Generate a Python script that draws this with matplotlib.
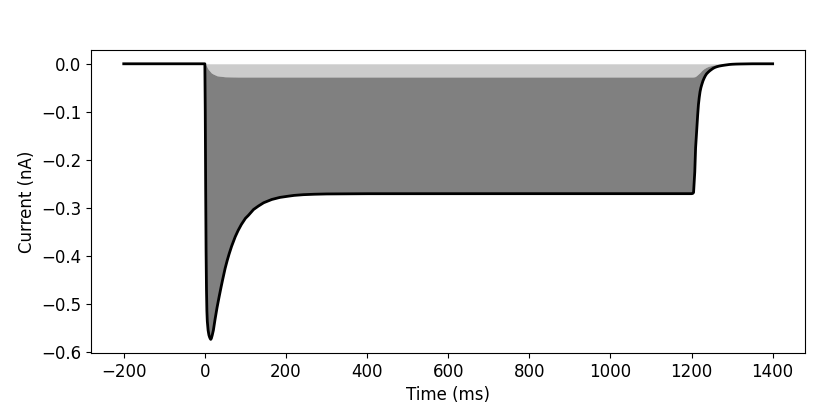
import matplotlib
matplotlib.use("Agg")
import matplotlib.pyplot as plt
import numpy as np

plt.rcParams['font.size'] = 12

# values
time_ms = [-200, 0, 1, 2, 3, 4, 5, 6, 8, 10,
           11.5, 13, 14.5, 16, 18, 21, 25, 27.6, 30, 35,
           40, 44, 50, 55, 60, 66, 75, 82, 90, 100,
           107, 120, 132, 145, 165, 185, 206, 220, 243, 270,
           300, 400, 800, 1200, 1203, 1205, 1208, 1210, 1213, 1215,
           1217, 1219, 1221, 1223, 1225, 1228, 1231, 1234, 1237, 1241,
           1245, 1249, 1253, 1257, 1262, 1268, 1275, 1281, 1287, 1293,
           1300, 1310, 1320, 1350, 1400]

total_nA = [0, 0, -0.10, -0.26, -0.39, -0.47, -0.515, -0.536, -0.555, -0.565,
            -0.569, -0.572, -0.574, -0.572, -0.566, -0.555, -0.533, -0.520, -0.508, -0.486,
            -0.465, -0.449, -0.426, -0.410, -0.3956, -0.380, -0.360, -0.3472, -0.3347, -0.3219,
            -0.316, -0.3035, -0.2963, -0.2894, -0.2826, -0.2783, -0.2757, -0.2741, -0.2726, -0.2717,
            -0.2711, -0.2706, -0.2705, -0.2705, -0.2700, -0.268, -0.225, -0.175, -0.135, -0.108,
            -0.085, -0.070, -0.058, -0.050, -0.044, -0.036, -0.030, -0.025, -0.021, -0.0175,
            -0.0145, -0.012, -0.0096, -0.0078, -0.0062, -0.0048, -0.0037, -0.0029, -0.0022, -0.0015,
            -0.0010, -0.0006, -0.0004, 0, 0]

# small component (light gray band)
component_nA = [0, 0, -0.001, -0.002, -0.003, -0.005, -0.006, -0.008, -0.011, -0.013,
                -0.0145, -0.016, -0.0175, -0.019, -0.020, -0.0215, -0.023, -0.024, -0.025, -0.0255,
                -0.026, -0.0265, -0.027, -0.0271, -0.0272, -0.0273, -0.0274, -0.0275, -0.0275, -0.0275,
                -0.0275, -0.0275, -0.0275, -0.0275, -0.0275, -0.0275, -0.0275, -0.0275, -0.0275, -0.0275,
                -0.0275, -0.0275, -0.0275, -0.0275, -0.0275, -0.0273, -0.027, -0.026, -0.024, -0.0225,
                -0.021, -0.0195, -0.018, -0.016, -0.014, -0.012, -0.010, -0.0085, -0.007, -0.0057,
                -0.0045, -0.0037, -0.003, -0.0025, -0.002, -0.0015, -0.001, -0.0007, -0.0005, -0.0003,
                -0.0002, -0.0001, 0, 0, 0]

t = np.array(time_ms)
tot = np.array(total_nA)
comp = np.array(component_nA)

fig, ax = plt.subplots(figsize=(8.3, 4.15), dpi=100)
plt.subplots_adjust(left=0.110, right=0.970, top=0.8795, bottom=0.149)

ax.fill_between(t, 0, comp, color='0.8', linewidth=0)
ax.fill_between(t, comp, tot, color='0.5', linewidth=0)
ax.plot(t, tot, color='k', lw=2)

ax.set_xlabel('Time (ms)')
ax.set_ylabel('Current (nA)')

fig.savefig('out.png')
